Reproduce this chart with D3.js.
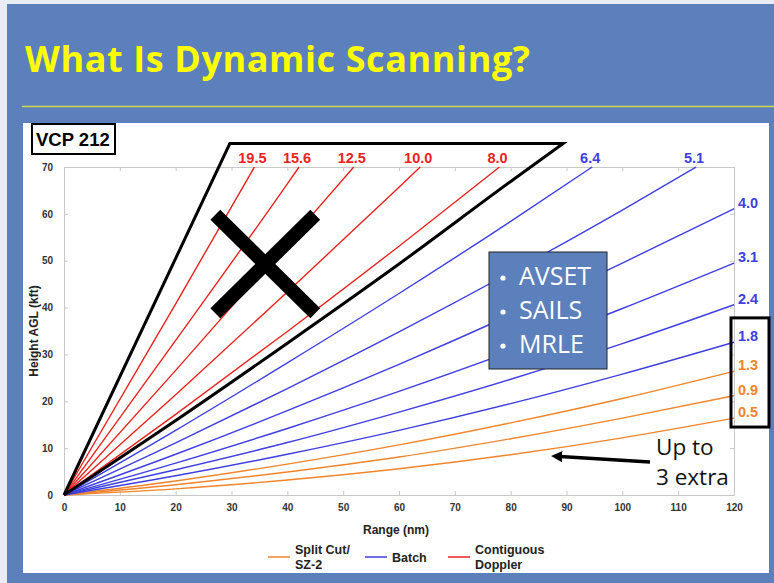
<!DOCTYPE html>
<html>
<head>
<meta charset="utf-8">
<script src="https://cdn.jsdelivr.net/npm/d3@7"></script>
<style>
  body { margin: 0; background: #e9edf3; }
  svg { display: block; }
</style>
</head>
<body>
<div id="chart"></div>
<script>
// elevation angles (deg) by scan type
const splitCutAngles = [0.5, 0.9, 1.3];
const batchAngles = [1.8, 2.4, 3.1, 4.0, 5.1, 6.4];
const dopplerAngles = [8.0, 10.0, 12.5, 15.6, 19.5];

// beam height (kft) read at these ranges (nm)
const rangeSteps = [0, 20, 40, 60, 80, 100, 120];
const beamHeights = [
  [0, 1.3, 3.2, 5.6, 8.6, 12.2, 16.4],
  [0, 2.2, 4.9, 8.1, 12.0, 16.4, 21.2],
  [0, 3.0, 6.6, 10.7, 15.4, 20.6, 26.4],
  [0, 4.1, 8.7, 13.8, 19.5, 25.8, 32.6],
  [0, 5.4, 11.2, 17.7, 24.7, 32.3, 40.6],
  [0, 6.8, 14.2, 22.1, 30.6, 39.8, 49.5],
  [0, 8.7, 18.0, 27.9, 38.4, 49.5, 61.1],
  [0, 11.1, 22.7, 34.8, 47.5, 60.8],
  [0, 13.8, 28.2, 43.0, 58.4],
  [0, 17.2, 34.9, 53.1],
  [0, 21.4, 43.3, 65.7],
  [0, 26.6, 53.7],
  [0, 33.0, 66.4],
  [0, 40.8]
];
// range where the beam leaves the top of the plot (70 kft)
const beamTopRange = [null, null, null, null, null, null, null, 113.2, 94.6, 78.0, 63.8, 51.9, 42.1, 34.1];

const xTicks = [0, 10, 20, 30, 40, 50, 60, 70, 80, 90, 100, 110, 120];
const yTicks = [0, 10, 20, 30, 40, 50, 60, 70];

// crossed-out region (black outline)
const outlineTop = 75;
const outlineLeftRange = 29.7;
const outlineRightRange = 89.4;
const outlineLowerHeights = [0, 15.9, 32.4, 49.3, 66.9];

const bullets = ["AVSET", "SAILS", "MRLE"];
const legendNames = [["Split Cut/", "SZ-2"], ["Batch"], ["Contiguous", "Doppler"]];

const colors = { split: "#f0852c", batch: "#3f3fe0", doppler: "#e8231f" };
const chartFont = "'Liberation Sans', Arial, sans-serif";
const slideFont = "'Open Sans', 'Noto Sans', sans-serif";

const allAngles = [...splitCutAngles, ...batchAngles, ...dopplerAngles];
const typeOf = (a) =>
  splitCutAngles.includes(a) ? "split" : batchAngles.includes(a) ? "batch" : "doppler";

const beams = allAngles.map((angle, i) => {
  const pts = beamHeights[i].map((h, j) => [rangeSteps[j], h]);
  if (beamTopRange[i] !== null) pts.push([beamTopRange[i], 70]);
  return { angle, type: typeOf(angle), pts, top: beamTopRange[i] !== null };
});

const W = 774, H = 583;
const svg = d3.select("#chart").append("svg").attr("width", W).attr("height", H);

// slide background
svg.append("rect").attr("x", 7).attr("y", 4).attr("width", W - 7).attr("height", H - 4).attr("fill", "#5b80bb");
svg.append("text")
  .attr("x", 25).attr("y", 72)
  .style("font-family", slideFont).style("font-weight", 700).style("font-size", "36px")
  .style("letter-spacing", "0.6px")
  .attr("fill", "#ffff00")
  .text("What Is Dynamic Scanning?");
svg.append("line").attr("x1", 22).attr("x2", W).attr("y1", 106.5).attr("y2", 106.5)
  .attr("stroke", "#cfd84a").attr("stroke-width", 1.5);
svg.append("rect").attr("x", 23).attr("y", 123).attr("width", 746).attr("height", 450).attr("fill", "#fff");

const x = d3.scaleLinear().domain([0, 120]).range([64, 734]);
const y = d3.scaleLinear().domain([0, 70]).range([495, 167]);

const styleAxis = (g) => {
  g.select(".domain").attr("stroke", "#c8c8c8");
  g.selectAll(".tick line").attr("stroke", "#c8c8c8");
  g.selectAll(".tick text").attr("fill", "#333").style("font-family", chartFont)
    .style("font-weight", 700).style("font-size", "10px");
};

svg.append("g").attr("transform", `translate(0,${y(0)})`)
  .call(d3.axisBottom(x).tickValues(xTicks).tickSizeInner(-4).tickSizeOuter(0).tickPadding(9))
  .call(styleAxis);
svg.append("g").attr("transform", `translate(${x(0)},0)`)
  .call(d3.axisLeft(y).tickValues(yTicks).tickSizeInner(-4).tickSizeOuter(0).tickPadding(11))
  .call(styleAxis);
svg.append("g").attr("transform", `translate(0,${y(70)})`)
  .call(d3.axisTop(x).tickValues(xTicks).tickSizeInner(-4).tickSizeOuter(0).tickFormat(""))
  .call(styleAxis);
svg.append("g").attr("transform", `translate(${x(120)},0)`)
  .call(d3.axisRight(y).tickValues(yTicks).tickSizeInner(-4).tickSizeOuter(0).tickFormat(""))
  .call(styleAxis);

svg.append("text")
  .attr("x", (x(0) + x(120)) / 2 - 3).attr("y", 534)
  .attr("text-anchor", "middle")
  .style("font-family", chartFont).style("font-weight", 700).style("font-size", "12px").attr("fill", "#222")
  .text("Range (nm)");
svg.append("text")
  .attr("transform", `translate(37.5,${(y(0) + y(70)) / 2}) rotate(-90)`)
  .attr("text-anchor", "middle")
  .style("font-family", chartFont).style("font-weight", 700).style("font-size", "12px").attr("fill", "#222")
  .text("Height AGL (kft)");

// beams
const line = d3.line().x((d) => x(d[0])).y((d) => y(d[1])).curve(d3.curveMonotoneX);
svg.append("g").selectAll("path").data(beams).join("path")
  .attr("d", (d) => line(d.pts))
  .attr("fill", "none")
  .attr("stroke", (d) => colors[d.type])
  .attr("stroke-width", 1.4);

// angle labels: above the top edge or right of the plot
svg.append("g").selectAll("text").data(beams).join("text")
  .attr("x", (d) => (d.top ? x(d.pts[d.pts.length - 1][0]) - 2 : x(120) + 4))
  .attr("y", (d) => (d.top ? 162.5 : y(d.pts[d.pts.length - 1][1]) - 1))
  .attr("text-anchor", (d) => (d.top ? "middle" : "start"))
  .style("font-family", chartFont).style("font-weight", 700).style("font-size", "14.5px")
  .attr("fill", (d) => colors[d.type])
  .text((d) => d.angle.toFixed(1));

// crossed-out wedge
const outlinePts = [[0, 0], [outlineLeftRange, outlineTop], [outlineRightRange, outlineTop]]
  .concat(outlineLowerHeights.map((h, j) => [rangeSteps[j], h]).reverse());
svg.append("path")
  .attr("d", d3.line().x((d) => x(d[0])).y((d) => y(d[1])).curve(d3.curveLinear)(outlinePts.slice(0, 3)) +
    d3.line().x((d) => x(d[0])).y((d) => y(d[1])).curve(d3.curveMonotoneX)(
      [[outlineRightRange, outlineTop]].concat(outlinePts.slice(3))).replace(/^M/, "L"))
  .attr("fill", "none").attr("stroke", "#000").attr("stroke-width", 3).attr("stroke-linejoin", "miter");

const cross = svg.append("g").attr("stroke", "#000").attr("stroke-width", 14);
cross.append("line").attr("x1", x(27.1)).attr("y1", y(59.8)).attr("x2", x(45.0)).attr("y2", y(38.8));
cross.append("line").attr("x1", x(27.1)).attr("y1", y(38.8)).attr("x2", x(45.0)).attr("y2", y(59.8));

// VCP badge
svg.append("rect").attr("x", 32).attr("y", 124).attr("width", 83).attr("height", 30)
  .attr("fill", "#fff").attr("stroke", "#000").attr("stroke-width", 2);
svg.append("text").attr("x", 36).attr("y", 146)
  .style("font-family", chartFont).style("font-weight", 700).style("font-size", "18.5px")
  .text("VCP 212");

// box around the lowest labels
svg.append("rect")
  .attr("x", x(120) - 3).attr("y", y(37.8))
  .attr("width", 38).attr("height", y(14.5) - y(37.8))
  .attr("fill", "none").attr("stroke", "#000").attr("stroke-width", 3);

// bullet box
const bx = 489, by = 252;
svg.append("rect").attr("x", bx).attr("y", by).attr("width", 118).attr("height", 117)
  .attr("fill", "#5b80bb").attr("stroke", "#222").attr("stroke-width", 1);
bullets.forEach((b, i) => {
  svg.append("circle").attr("cx", bx + 14).attr("cy", by + 26 + i * 34).attr("r", 2.6).attr("fill", "#fff");
  svg.append("text").attr("x", bx + 30).attr("y", by + 33 + i * 34)
    .style("font-family", slideFont).style("font-size", "25px").attr("fill", "#fff")
    .text(b);
});

// "Up to 3 extra" arrow
svg.append("defs").append("marker")
  .attr("id", "head").attr("viewBox", "0 0 10 10").attr("refX", 2).attr("refY", 5)
  .attr("markerWidth", 3.2).attr("markerHeight", 3.2).attr("orient", "auto")
  .append("path").attr("d", "M0,0L10,5L0,10z").attr("fill", "#000");
svg.append("line").attr("x1", 650).attr("y1", 462).attr("x2", 560).attr("y2", 456.5)
  .attr("stroke", "#000").attr("stroke-width", 3.5).attr("marker-end", "url(#head)");
["Up to", "3 extra"].forEach((t, i) => {
  svg.append("text").attr("x", 656).attr("y", 455 + i * 30)
    .style("font-family", slideFont).style("font-size", "22.5px").attr("fill", "#111")
    .text(t);
});

// legend
const legendX = [268, 365, 448];
const legendKeys = ["split", "batch", "doppler"];
legendKeys.forEach((k, i) => {
  const g = svg.append("g").attr("transform", `translate(${legendX[i]},557)`);
  g.append("line").attr("x1", 0).attr("x2", 22).attr("stroke", colors[k]).attr("stroke-width", 1.5);
  const names = legendNames[i];
  names.forEach((n, j) => {
    g.append("text").attr("x", 27).attr("y", 4.5 + (j - (names.length - 1) / 2) * 15)
      .style("font-family", chartFont).style("font-weight", 700).style("font-size", "12.5px").attr("fill", "#222")
      .text(n);
  });
});
</script>
</body>
</html>
